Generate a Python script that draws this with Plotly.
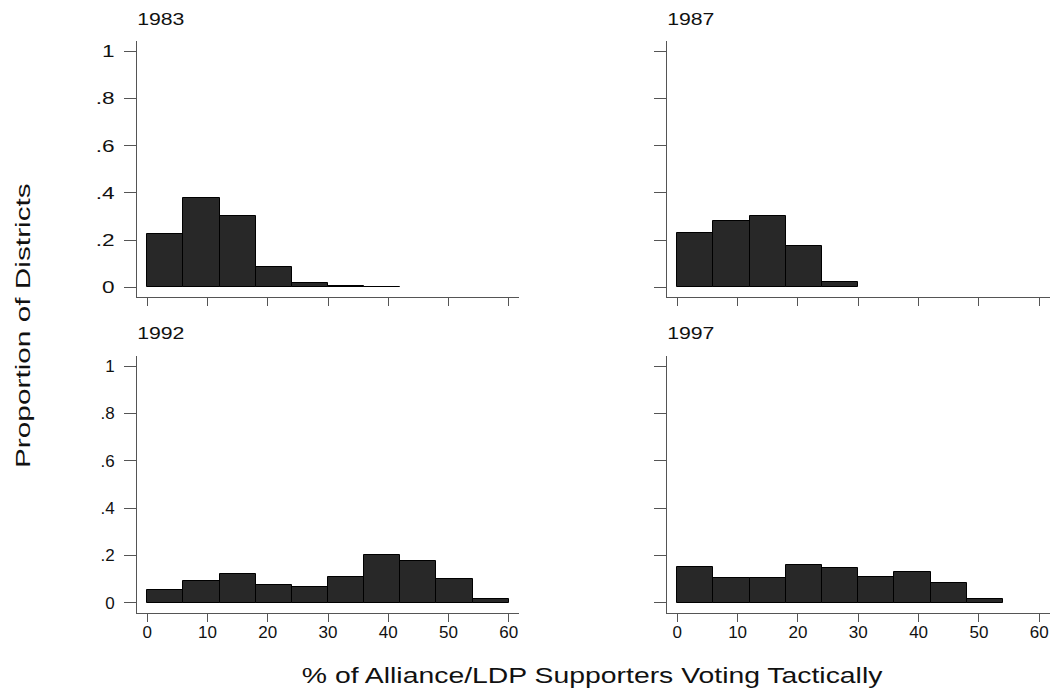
import plotly.graph_objects as go

# Histogram bins (% tactical), width 6
bin_left = [0, 6, 12, 18, 24, 30, 36, 42, 48, 54]
bin_width = 6

years = ["1983", "1987", "1992", "1997"]
prop_1983 = [0.226, 0.378, 0.300, 0.086, 0.018, 0.006, 0.003]
prop_1987 = [0.232, 0.280, 0.301, 0.177, 0.024]
prop_1992 = [0.052, 0.091, 0.121, 0.075, 0.067, 0.111, 0.200, 0.177, 0.101, 0.014]
prop_1997 = [0.153, 0.105, 0.105, 0.159, 0.145, 0.111, 0.129, 0.084, 0.014]

x_ticks = [0, 10, 20, 30, 40, 50, 60]
y_ticks = [0, 0.2, 0.4, 0.6, 0.8, 1]
y_ticktext = ["0", ".2", ".4", ".6", ".8", "1"]

W, H = 1052, 689
FONT = "Liberation Sans, Arial, sans-serif"
AXC = "#555555"
TXT = "#111111"

# panel boxes in pixels: (left, right, top, bottom)
panels = [
    (137, 519, 41, 297),
    (667, 1049.5, 41, 297),
    (137, 519, 356, 612.5),
    (667, 1049.5, 356, 612.5),
]
title_pos = [(161, 19), (691, 19), (161, 333), (691, 333)]
series = [prop_1983, prop_1987, prop_1992, prop_1997]

fig = go.Figure()
for i, (vals, (l, r, t, b)) in enumerate(zip(series, panels)):
    n = i + 1
    xa = "x" if n == 1 else f"x{n}"
    ya = "y" if n == 1 else f"y{n}"
    centers = [bin_left[k] + bin_width / 2 for k in range(len(vals))]
    fig.add_trace(go.Bar(
        x=centers, y=vals, width=bin_width,
        marker=dict(color="#282828", line=dict(color="#000000", width=1)),
        xaxis=xa, yaxis=ya, showlegend=False, hoverinfo="skip",
    ))
    bottom_row = i >= 2
    left_col = i % 2 == 0
    fig.layout[f"xaxis{'' if n == 1 else n}"] = dict(
        domain=[l / W, r / W], range=[-1.7, 61.7], anchor=ya,
        showline=True, linecolor=AXC, linewidth=1, showgrid=False, zeroline=False,
        ticks="outside", ticklen=8, tickcolor=AXC, tickwidth=1,
        tickvals=x_ticks, showticklabels=bottom_row,
        tickfont=dict(family=FONT, size=17, color=TXT), ticklabelstandoff=-4,
    )
    fig.layout[f"yaxis{'' if n == 1 else n}"] = dict(
        domain=[1 - b / H, 1 - t / H], range=[-0.041, 1.043], anchor=xa,
        showline=True, linecolor=AXC, linewidth=1, showgrid=False, zeroline=False,
        ticks="outside", ticklen=12, tickcolor=AXC, tickwidth=1,
        tickvals=y_ticks, ticktext=y_ticktext, showticklabels=left_col,
        tickfont=dict(family=FONT, size=17, color=TXT), ticklabelstandoff=6,
    )
    cx, cy = title_pos[i]
    fig.add_annotation(
        text=years[i], x=cx / W, y=1 - cy / H, xref="paper", yref="paper",
        xanchor="center", yanchor="middle", showarrow=False,
        font=dict(family=FONT, size=16, color=TXT),
    )

fig.add_annotation(
    text="Proportion of Districts", x=22 / W, y=1 - 326 / H, xref="paper", yref="paper",
    textangle=-90, xanchor="center", yanchor="middle", showarrow=False,
    font=dict(family=FONT, size=21, color=TXT),
)
fig.add_annotation(
    text="% of Alliance/LDP Supporters Voting Tactically", x=592 / W, y=1 - 676 / H,
    xref="paper", yref="paper", xanchor="center", yanchor="middle", showarrow=False,
    font=dict(family=FONT, size=21.5, color=TXT),
)

fig.update_layout(
    width=W, height=H, margin=dict(l=0, r=0, t=0, b=0),
    paper_bgcolor="white", plot_bgcolor="white", bargap=0,
)

# widen glyphs horizontally (the reference typeface is wide)
post = """
document.body.style.margin='0';document.body.style.overflow='hidden';
var gd=document.getElementById('{plot_id}');
function widen(el,s){
  var x=parseFloat(el.getAttribute('x'))||0;
  var tr=el.getAttribute('transform')||'';
  el.setAttribute('transform', tr+' translate('+x+',0) scale('+s+',1) translate('+(-x)+',0)');
}
gd.querySelectorAll('.xtick text').forEach(function(e){widen(e,1.33);});
gd.querySelectorAll('.ytick text').forEach(function(e){widen(e,1.33);});
gd.querySelectorAll('.annotation-text').forEach(function(e){
  var t=e.textContent;
  var s=1.33;
  if(t.indexOf('Proportion')===0) s=1.42;
  else if(t.indexOf('%')===0) s=1.32;
  widen(e,s);
});
"""
fig.write_html("out.html", post_script=post, config={"displayModeBar": False})
